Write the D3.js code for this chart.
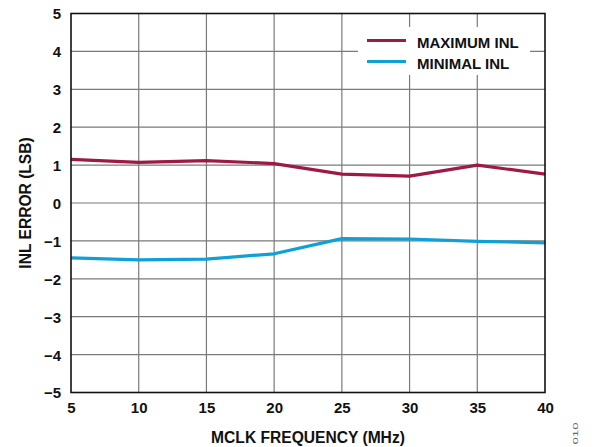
<!DOCTYPE html>
<html>
<head>
<meta charset="utf-8">
<script src="https://cdn.jsdelivr.net/npm/d3@7"></script>
<style>
  html, body { margin: 0; padding: 0; background: #fff; }
  svg { display: block; }
  text { font-family: "Liberation Sans", Arial, Helvetica, sans-serif; }
</style>
</head>
<body>
<svg id="chart" width="598" height="447"></svg>
<script>
// MCLK frequency (MHz)
const frequencies = [5, 10, 15, 20, 25, 30, 35, 40];
// INL error (LSB)
const maxInl = [1.15, 1.07, 1.12, 1.04, 0.76, 0.71, 1.00, 0.76];
const minInl = [-1.45, -1.50, -1.48, -1.34, -0.94, -0.95, -1.01, -1.05];

const xTicks = [5, 10, 15, 20, 25, 30, 35, 40];
const yTicks = [5, 4, 3, 2, 1, 0, -1, -2, -3, -4, -5];

const seriesNames = ["MAXIMUM INL", "MINIMAL INL"];
const seriesColors = ["#9d1a47", "#0fa0d8"];

const svg = d3.select("#chart");
const margin = { left: 71, right: 53, top: 13.5, bottom: 54.5 };
const W = 598, H = 447;
const x = d3.scaleLinear().domain([5, 40]).range([margin.left, W - margin.right]);
const y = d3.scaleLinear().domain([-5, 5]).range([H - margin.bottom, margin.top]);

const fmt = d => (d < 0 ? "\u2212" + Math.abs(d) : String(d));

// grid
const grid = svg.append("g").attr("stroke", "#7a7a7a").attr("stroke-width", 1.2);
grid.selectAll("line.v").data(xTicks.slice(1, -1)).join("line")
  .attr("x1", d => x(d)).attr("x2", d => x(d))
  .attr("y1", y(5)).attr("y2", y(-5));
grid.selectAll("line.h").data(yTicks.slice(1, -1)).join("line")
  .attr("x1", x(5)).attr("x2", x(40))
  .attr("y1", d => y(d)).attr("y2", d => y(d));

// axes with labels
const xAxis = d3.axisBottom(x).tickValues(xTicks).tickSize(0).tickPadding(10).tickFormat(fmt);
const yAxis = d3.axisLeft(y).tickValues(yTicks).tickSize(0).tickPadding(10).tickFormat(fmt);

const gx = svg.append("g").attr("transform", `translate(0,${y(-5)})`).call(xAxis);
const gy = svg.append("g").attr("transform", `translate(${x(5)},0)`).call(yAxis);
[gx, gy].forEach(g => {
  g.select(".domain").remove();
  g.selectAll("text").attr("font-size", 15).attr("font-weight", "bold").attr("fill", "#111");
});
gy.selectAll("text").attr("dy", "0.36em");

// legend backdrop
svg.append("rect")
  .attr("x", 358).attr("y", 27).attr("width", 172).attr("height", 48)
  .attr("fill", "#fff");

// series lines
const line = d3.line().x((d, i) => x(frequencies[i])).y(d => y(d));
[maxInl, minInl].forEach((vals, k) => {
  svg.append("path").datum(vals)
    .attr("fill", "none")
    .attr("stroke", seriesColors[k])
    .attr("stroke-width", 3.2)
    .attr("stroke-linejoin", "round")
    .attr("d", line);
});

// plot frame
svg.append("rect")
  .attr("x", x(5)).attr("y", y(5))
  .attr("width", x(40) - x(5)).attr("height", y(-5) - y(5))
  .attr("fill", "none").attr("stroke", "#111").attr("stroke-width", 1.6);

// legend
const legend = svg.append("g");
seriesNames.forEach((name, k) => {
  const ly = 40.5 + k * 21;
  legend.append("line")
    .attr("x1", 367).attr("x2", 406).attr("y1", ly).attr("y2", ly)
    .attr("stroke", seriesColors[k]).attr("stroke-width", 3.2);
  legend.append("text")
    .attr("x", 417).attr("y", ly + 1.8).attr("dy", "0.36em")
    .attr("font-size", 15).attr("font-weight", "bold").attr("fill", "#111")
    .text(name);
});

// axis titles
svg.append("text")
  .attr("x", (x(5) + x(40)) / 2).attr("y", 442.5)
  .attr("text-anchor", "middle")
  .attr("font-size", 15.6).attr("font-weight", "bold").attr("fill", "#111")
  .text("MCLK FREQUENCY (MHz)");

svg.append("text")
  .attr("transform", `translate(31,${y(0)}) rotate(-90)`)
  .attr("text-anchor", "middle")
  .attr("font-size", 15.6).attr("font-weight", "bold").attr("fill", "#111")
  .text("INL ERROR (LSB)");

// figure number
svg.append("text")
  .attr("transform", "translate(578,433.5) rotate(-90)")
  .attr("text-anchor", "middle")
  .attr("font-size", 8).attr("fill", "#666")
  .attr("textLength", 22).attr("lengthAdjust", "spacingAndGlyphs")
  .text("010");
</script>
</body>
</html>
